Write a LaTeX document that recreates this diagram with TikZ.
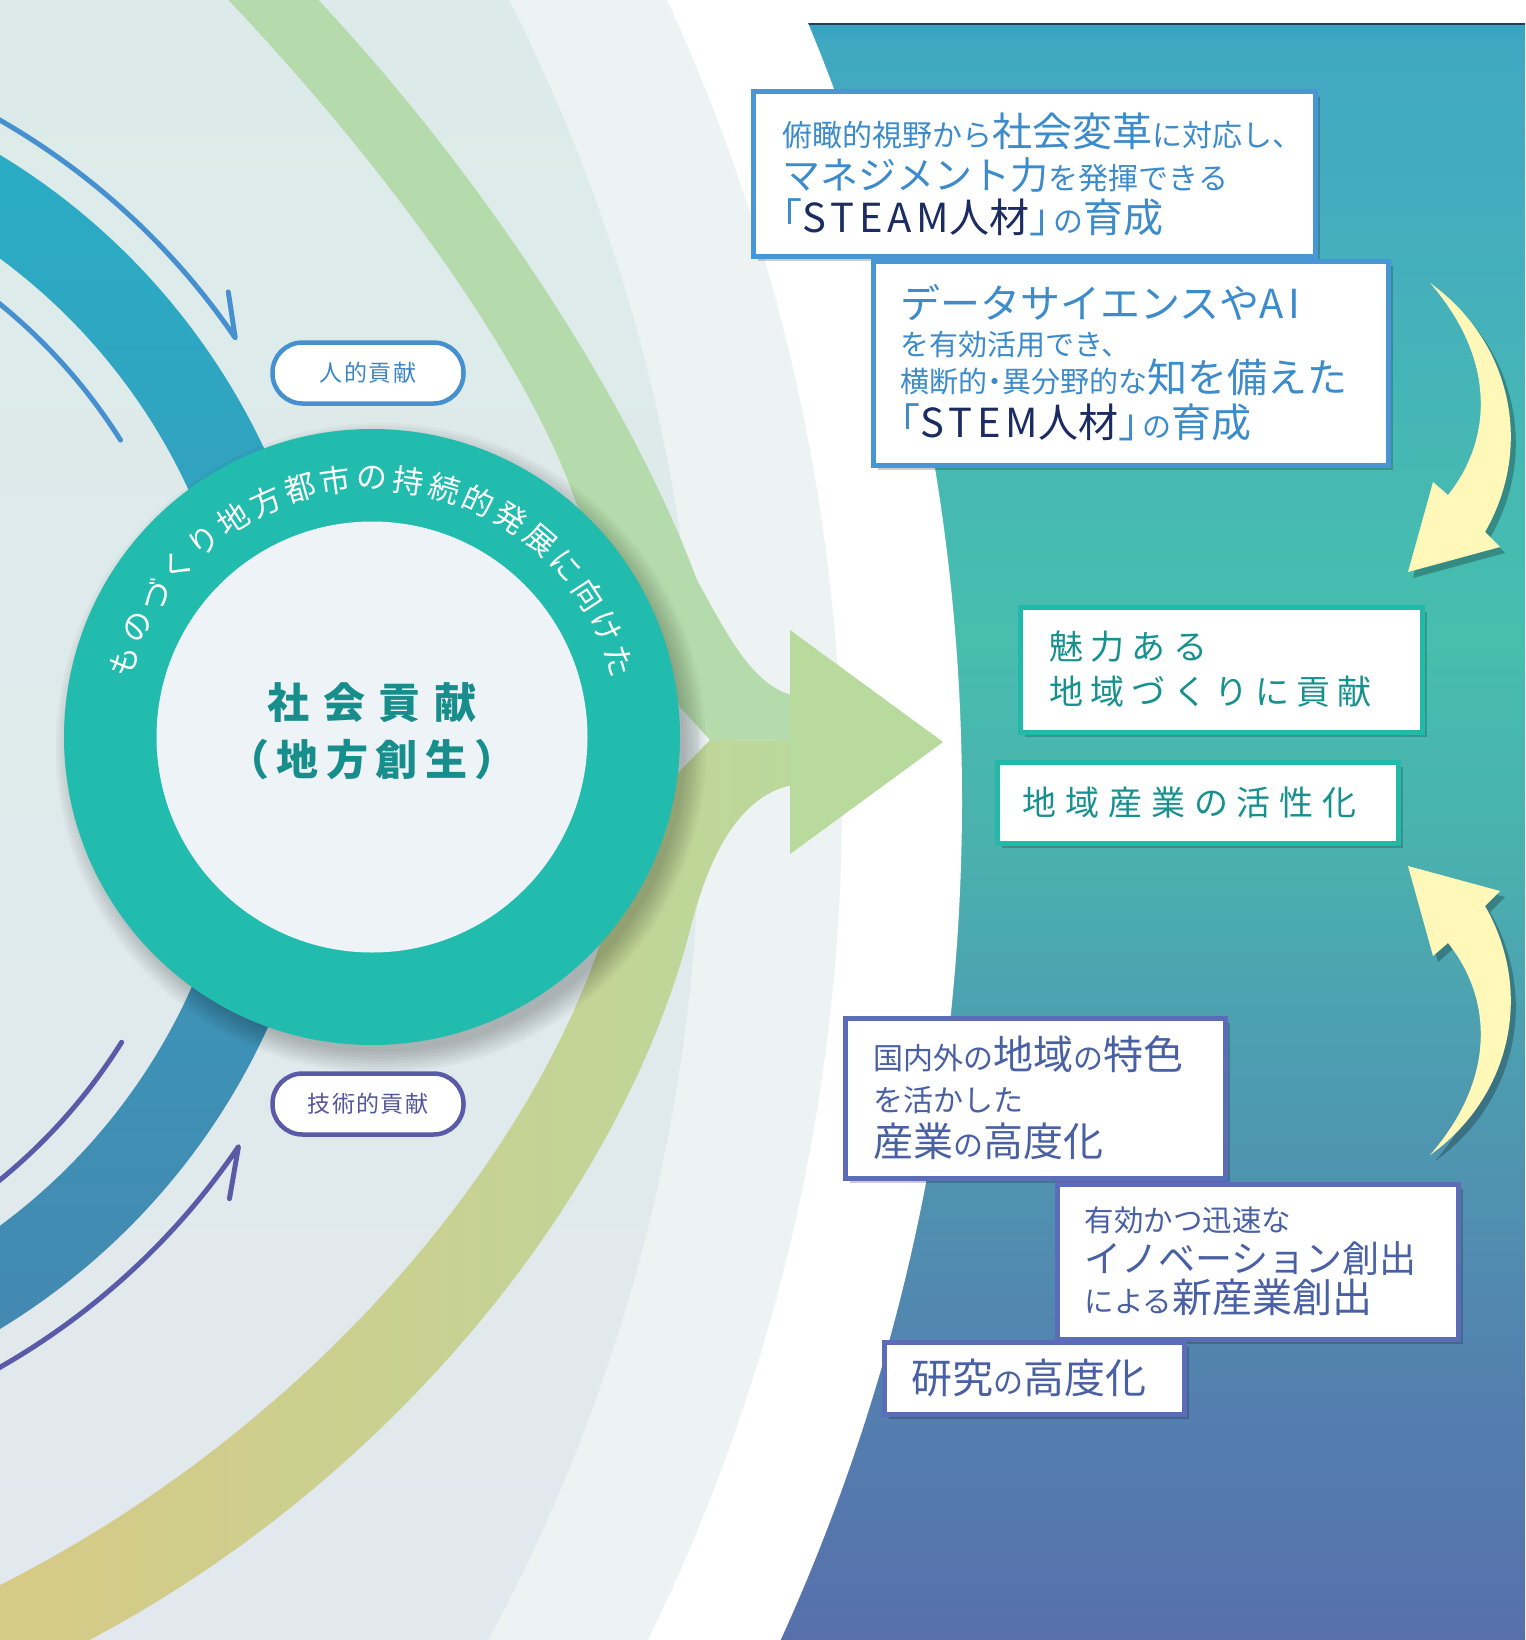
\documentclass[tikz,border=0pt]{standalone}
\usepackage{fontspec}
\usetikzlibrary{calc,shadows}
\newfontfamily\jp{Noto Sans CJK JP}
\newfontfamily\jpcoreA[LetterSpace=33]{Noto Sans CJK JP}
\newfontfamily\jpcoreB[LetterSpace=18]{Noto Sans CJK JP}
\newfontfamily\jpgoalA[LetterSpace=21]{Noto Sans CJK JP}
\newfontfamily\jpgoalB[LetterSpace=26]{Noto Sans CJK JP}
\newfontfamily\jplatin[LetterSpace=12]{Noto Sans CJK JP}
\newfontfamily\jppill[LetterSpace=6]{Noto Sans CJK JP}
\newcommand\txl{\fontsize{40}{42}\selectfont}

\definecolor{sea0}{HTML}{36A3C1}
\definecolor{sea1}{HTML}{41A8C2}
\definecolor{sea2}{HTML}{44ACBF}
\definecolor{sea3}{HTML}{46BAB2}
\definecolor{sea4}{HTML}{47BEAE}
\definecolor{sea5}{HTML}{4AB1AE}
\definecolor{sea6}{HTML}{4CA2B1}
\definecolor{sea7}{HTML}{5091B0}
\definecolor{sea8}{HTML}{537FAF}
\definecolor{sea9}{HTML}{5770AC}
\definecolor{seaedge}{HTML}{1E3F55}
\definecolor{paleband}{HTML}{EDF3F3}
\definecolor{bgtop}{HTML}{DCEBE9}
\definecolor{bgbot}{HTML}{E2E9EE}
\definecolor{bandtop}{HTML}{29AEC6}
\definecolor{bandmid}{HTML}{31B5B3}
\definecolor{bandbot}{HTML}{4587B0}
\definecolor{humanblue}{HTML}{4690D0}
\definecolor{humantext}{HTML}{3D86C6}
\definecolor{techblue}{HTML}{5A5BA8}
\definecolor{techtext}{HTML}{55559E}
\definecolor{upgreen}{HTML}{B5DBAC}
\definecolor{lowyellow}{HTML}{D8C985}
\definecolor{lowgreen}{HTML}{BBD89C}
\definecolor{headgreen}{HTML}{B8DA9D}
\definecolor{ringteal}{HTML}{21BCAD}
\definecolor{disk}{HTML}{EEF3F8}
\definecolor{coretext}{HTML}{178D8C}
\definecolor{arrowyellow}{HTML}{FFF8B8}
\definecolor{boxblue}{HTML}{4896D3}
\definecolor{bluetext}{HTML}{3C8BCB}
\definecolor{navy}{HTML}{1B2C62}
\definecolor{boxteal}{HTML}{22B9A9}
\definecolor{tealtext}{HTML}{17918F}
\definecolor{boxindigo}{HTML}{5B6DB6}
\definecolor{indigotext}{HTML}{4960A5}

\pgfdeclareverticalshading{rightsea}{100bp}{color(0bp)=(sea9); color(25bp)=(sea9);
  color(32.4bp)=(sea8); color(38.6bp)=(sea7); color(44.8bp)=(sea6); color(49.4bp)=(sea5);
  color(55.9bp)=(sea4); color(60.3bp)=(sea3); color(69.6bp)=(sea2); color(74.3bp)=(sea1);
  color(75bp)=(sea0); color(100bp)=(sea0)}

\tikzset{
  boxframe/.style={draw, line width=5pt, fill=white, anchor=north west, inner sep=0pt,
    drop shadow={shadow xshift=5pt, shadow yshift=-5pt, opacity=.2, fill=black}},
  boxtext/.style={anchor=west, align=left, inner sep=0pt},
  pill/.style={draw, line width=4.5pt, fill=white, rounded corners=30pt, minimum width=191pt,
    minimum height=61pt, inner sep=0pt, font=\jppill\fontsize{23}{23}\selectfont},
  ringchar/.style={text=white, inner sep=0pt, font=\jp\fontsize{31}{31}\selectfont},
  yelarrow/.style={fill=arrowyellow, drop shadow={shadow xshift=5pt, shadow yshift=-6pt, opacity=.25, fill=black}},
  human/.style={draw=humanblue, line width=5pt, line cap=round, line join=round},
  tech/.style={draw=techblue, line width=5pt, line cap=round, line join=round},
}

\begin{document}
\begin{tikzpicture}[x=1pt, y=-1pt]
%%%%% START %%%%%
\useasboundingbox (0,0) rectangle (1525,1640);
\begin{scope}
\clip (0,0) rectangle (1525,1640);

% backdrop
\fill[white] (0,0) rectangle (1525,1640);
\shade[shading=rightsea] (600,24) rectangle (1525,1640);
\draw[seaedge, line width=2.5pt] (600,24) -- (1525,24);
\coordinate (sea) at (-1068,800);
\fill[white] (sea) circle[radius=2030];
\fill[paleband] (sea) circle[radius=1910];
\begin{scope}
  \clip (sea) circle[radius=1768];
  \shade[top color=bgtop, bottom color=bgbot] (0,0) rectangle (1000,1640);
\end{scope}

% teal band and thin arcs
\coordinate (tb) at (-357,742);
\shade[top color=bandtop, middle color=bandmid, bottom color=bandbot]
  ($(tb)+(-70:687)$) arc[start angle=-70, end angle=70, radius=687]
  -- ($(tb)+(70:601)$) arc[start angle=70, end angle=-70, radius=601] -- cycle;

\draw[human] ($(tb)+(-62:717)$) arc[start angle=-62, end angle=-34.3, radius=717] -- ++(-7,-46);
\draw[human] ($(tb)+(-55:565)$) arc[start angle=-55, end angle=-32.3, radius=565];
\draw[tech] ($(tb)+(55:565)$) arc[start angle=55, end angle=32.1, radius=565];
\draw[tech] ($(tb)+(62:720)$) arc[start angle=62, end angle=34.2, radius=720] -- ++(-9,52);

% green bands and big arrow
\fill[upgreen] (219,-10) .. controls (400,180) and (530,370) .. (575,500)
  .. controls (620,590) and (650,650) .. (680,707) -- (710,740) -- (800,741) -- (800,697)
  .. controls (755,690) and (730,640) .. (697,580)
  .. controls (630,400) and (480,170) .. (309,-10) -- cycle;
\shade[left color=lowyellow, right color=lowgreen] (800,741) -- (710,740) -- (676,775)
  .. controls (645,810) and (630,850) .. (616,888)
  .. controls (565,1110) and (340,1420) .. (-20,1595) -- (-20,1660) -- (50,1660)
  .. controls (380,1500) and (620,1200) .. (690,930)
  .. controls (705,870) and (735,790) .. (800,784) -- cycle;
\fill[headgreen] (790,630) -- (943,742) -- (790,854) -- cycle;

% circle
\foreach \k in {0,...,7}
  \fill[black, opacity=0.03] (381,748) circle[radius=304+3*\k];
\node[circle, fill=ringteal, minimum size=616pt, inner sep=0pt] (ring) at (372,737) {};
\foreach \ch [count=\i from 0] in {も,の,づ,く,り,地,方,都,市,の,持,続,的,発,展,に,向,け,た}{
  \pgfmathsetmacro\ang{-163+\i*146/18}
  \pgfmathsetmacro\rot{-90-(\ang)}
  \node[ringchar, rotate=\rot] (rc\i) at ($(ring.center)+(\ang:259)$) {\ch};
}
\node[circle, fill=disk, minimum size=431pt, inner sep=0pt] (disk) at (ring.center) {};
\node[text=coretext, font=\jpcoreA\bfseries\fontsize{42}{42}\selectfont] (core1) at (372,703) {社会貢献};
\node[text=coretext, font=\jpcoreB\bfseries\fontsize{42}{42}\selectfont] (core2) at (372,760) {（地方創生）};

\node[pill, draw=humanblue, text=humantext] (jinteki) at (368,373) {人的貢献};
\node[pill, draw=techblue, text=techtext] (gijutsu) at (368,1104) {技術的貢献};

% yellow arrows
\path[yelarrow] (1430,283) .. controls (1510,340) and (1535,445) .. (1485,532) -- (1500,547)
  -- (1408,572) -- (1433,482) -- (1448,495) .. controls (1492,440) and (1497,360) .. (1430,283) -- cycle;
\path[yelarrow] (1430,1155) .. controls (1510,1098) and (1535,993) .. (1485,906) -- (1500,891)
  -- (1408,866) -- (1433,956) -- (1448,943) .. controls (1492,998) and (1497,1078) .. (1430,1155) -- cycle;

% boxes, blue
\node[boxframe, draw=boxblue, minimum width=562pt, minimum height=164pt] (steam) at (750.5,89.5) {};
\node[boxtext, text=bluetext, font=\jp\fontsize{30}{43}\selectfont] (steamtxt) at ([xshift=32pt]steam.west)
  {俯瞰的視野から{\txl 社会変革}に対応し、\\
   {\fontsize{38}{42}\selectfont マネジメント力}を発揮できる\\
   {\txl\hspace*{-0.5em}「}{\color{navy}{\txl\jplatin STEAM}{\txl 人材}}{\txl 」\hspace*{-0.38em}}の{\txl 育成}};

\node[boxframe, draw=boxblue, minimum width=515pt, minimum height=204pt] (stem) at (870.5,258.5) {};
\node[boxtext, text=bluetext, font=\jp\fontsize{29}{37}\selectfont] (stemtxt) at ([xshift=30pt]stem.west)
  {{\txl データサイエンスや{\jplatin AI}}\\
   を有効活用でき、\\
   横断的\hspace*{-0.25em}・\hspace*{-0.25em}異分野的な{\txl 知を備えた}\\[7pt]
   {\txl\hspace*{-0.5em}「}{\color{navy}{\txl\jplatin STEM}{\txl 人材}}{\txl 」\hspace*{-0.38em}}の{\txl 育成}};

% boxes, teal
\node[boxframe, draw=boxteal, minimum width=402pt, minimum height=125pt] (miryoku) at (1017.5,604.5) {};
\node[boxtext, text=tealtext, font=\jpgoalA\fontsize{34}{45}\selectfont] (miryokutxt) at ([xshift=32pt]miryoku.west)
  {魅力ある\\地域づくりに貢献};
\node[boxframe, draw=boxteal, minimum width=401pt, minimum height=81pt] (kassei) at (994.5,759.5) {};
\node[boxtext, text=tealtext, font=\jpgoalB\fontsize{34}{34}\selectfont] (kasseitxt) at ([xshift=28pt]kassei.west)
  {地域産業の活性化};

% boxes, indigo
\node[boxframe, draw=boxindigo, minimum width=380pt, minimum height=160pt] (kodoka) at (842.5,1015.5) {};
\node[boxtext, text=indigotext, font=\jp\fontsize{30}{42}\selectfont] (kodokatxt) at ([xshift=31pt]kodoka.west)
  {国内外の{\txl 地域}の{\txl 特色}\\
   を活かした\\[3pt]
   {\txl 産業}の{\txl 高度化}};
\node[boxframe, draw=boxindigo, minimum width=401pt, minimum height=155pt] (innov) at (1054.5,1181.5) {};
\node[boxtext, text=indigotext, font=\jp\fontsize{29.5}{40.5}\selectfont] (innovtxt) at ([xshift=30pt]innov.west)
  {有効かつ迅速な\\
   {\fontsize{37}{40}\selectfont イノベーション創出}\\
   による{\txl 新産業創出}};
\node[boxframe, draw=boxindigo, minimum width=300pt, minimum height=72pt] (kenkyu) at (881.5,1339.5) {};
\node[boxtext, text=indigotext, font=\jp\fontsize{30}{40}\selectfont] (kenkyutxt) at ([xshift=30pt]kenkyu.west)
  {{\fontsize{41}{42}\selectfont 研究}の{\fontsize{41}{42}\selectfont 高度化}};
\end{scope}
%%%%% END %%%%%
\end{tikzpicture}
\end{document}
